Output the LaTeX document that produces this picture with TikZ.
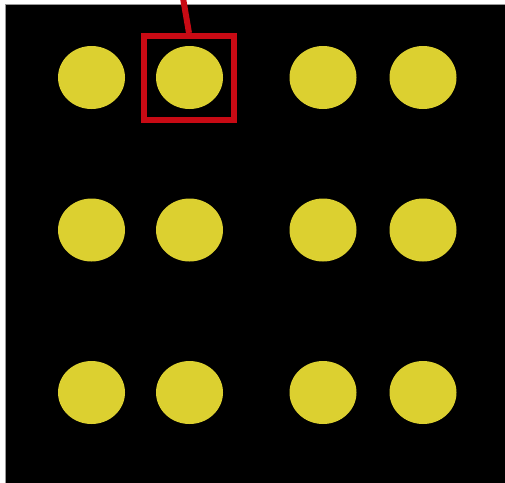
\documentclass[tikz,border=0pt]{standalone}
\usetikzlibrary{shapes.geometric}
\definecolor{dotyellow}{RGB}{220,208,48}
\definecolor{boxred}{RGB}{200,10,20}
\begin{document}
\begin{tikzpicture}[x=1pt,y=-1pt,
  dot/.style={ellipse,fill=dotyellow,minimum width=67pt,minimum height=63pt,inner sep=0pt},
  hilite/.style={draw=boxred,line width=6pt,minimum width=90pt,minimum height=84pt,inner sep=0pt},
  pointer/.style={draw=boxred,line width=6pt}]
\useasboundingbox (0,0) rectangle (505,482);
\fill[white] (0,0) rectangle (505,482);
\draw[fill=black,draw=black!40,line width=0.8pt] (5,4) rectangle (506,483);
\foreach \r/\y in {1/77.5,2/230,3/392.5}{
  \foreach \c/\x in {1/91.5,2/189.5,3/323,4/423}{
    \node[dot] (d\r\c) at (\x,\y) {};
  }
}
\node[hilite] (box) at (189,78) {};
\coordinate (tip) at (183,-2);
\draw[pointer] (tip) -- (box.north);
\end{tikzpicture}
\end{document}
